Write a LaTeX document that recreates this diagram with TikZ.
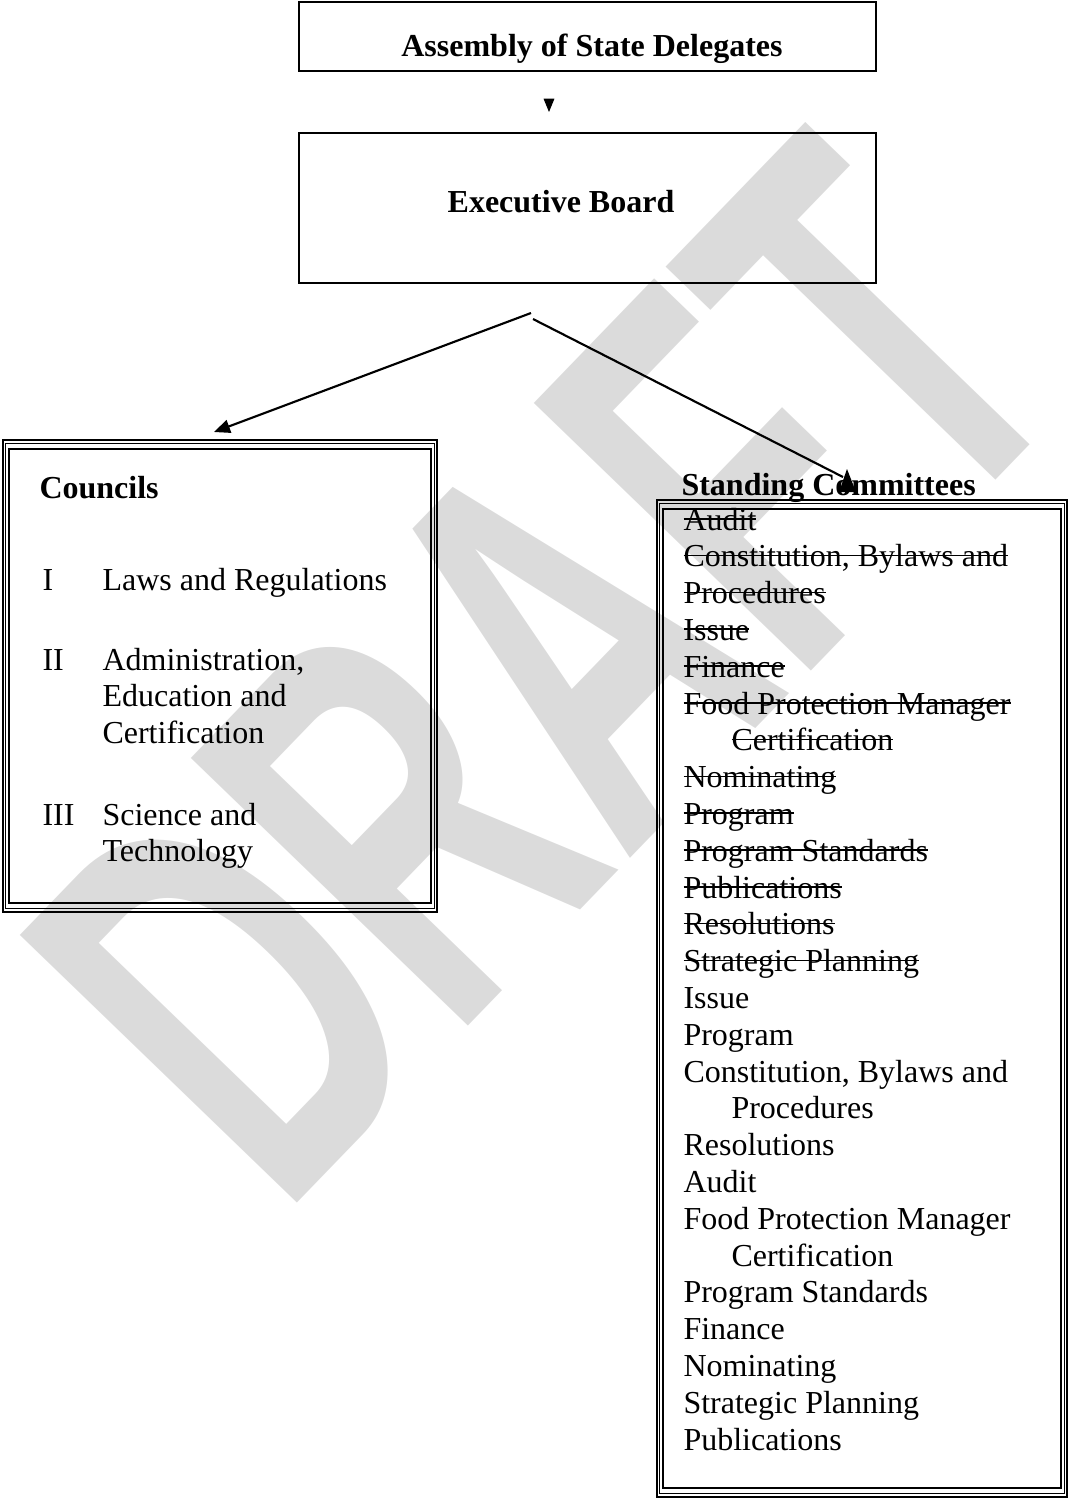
\documentclass[tikz,border=0pt]{standalone}
\usepackage{fontspec}
\setmainfont{Liberation Serif}
\newfontfamily\wmfont{Liberation Sans}
\usepackage{graphicx}
\usetikzlibrary{arrows.meta}
\tikzset{
    box/.style={
        draw,
        line width=1pt,
        inner sep=0pt
    },
    outerframe/.style={
        draw,
        line width=0.8pt,
        inner sep=0pt
    },
    heading/.style={
        anchor=base west,
        inner sep=0pt,
        font=\bfseries\fontsize{12}{13.8}\selectfont
    },
    entry/.style={
        anchor=base west,
        inner sep=0pt,
        align=left,
        font=\fontsize{12}{13.8}\selectfont
    },
    conn/.style={
        line width=0.8pt,
        -{Triangle[length=6pt,width=5pt]}
    },
    watermark/.style={
        anchor=base west,
        inner sep=0pt,
        rotate=46,
        text=black!14,
        font=\wmfont\bfseries\fontsize{210}{210}\selectfont
    }
}
\newcommand{\struck}[1]{\setbox0\hbox{#1}\rlap{\rule[3.9pt]{\wd0}{0.6pt}}\box0}
\newcommand{\tripleframe}[1] {
    \draw[line width=0.4pt] ([shift={(3.5,5)}]#1.north west) rectangle ([shift={(-3.5,-5)}]#1.south east);
    \draw[line width=0.6pt] ([shift={(7,10)}]#1.north west) rectangle ([shift={(-7,-10)}]#1.south east);
}

\begin{document}
\begin{tikzpicture}[x={(0.375pt,0)}, y={(0,-0.375pt)}]
    \useasboundingbox (0,0) rectangle (1069,1502);
    % watermark
    \node[watermark] (draft) at (281,1220) {\scalebox{0.61}[1]{DRAFT}};

    % top of the chart
    \node[box, minimum width=216.4pt, minimum height=25.9pt] (assembly) at (587.5,36.5) {};
    \node[anchor=base, inner sep=0pt, font=\bfseries\fontsize{12}{13.8}\selectfont] (assemblytext) at (592,56) {Assembly of State Delegates};
    \node[box, minimum width=216.4pt, minimum height=56.25pt] (board) at (587.5,208) {};
    \node[anchor=base, inner sep=0pt, font=\bfseries\fontsize{12}{13.8}\selectfont] (boardtext) at (561,212) {Executive Board};

    \coordinate (downfrom) at (549,100);
    \coordinate (downtip) at (549,112);
    \draw[-{Triangle[length=5pt,width=4pt]}] (downfrom) -- (downtip);

    % councils (base of a block = its last line)
    \node[outerframe, minimum width=162.6pt, minimum height=177pt] (councils) at (220,676) {};
    \tripleframe{councils}
    \node[heading] (councilshead) at (39,498) {Councils};
    \node[entry] (numI) at (42,590) {I};
    \node[entry] (lawsreg) at (102,590) {Laws and Regulations};
    \node[entry] (numII) at (42,670) {II};
    \node[entry] (admin) at (102,743.6) {Administration,\\Education and\\Certification};
    \node[entry] (numIII) at (42,825) {III};
    \node[entry] (science) at (102,861.8) {Science and\\Technology};

    % standing committees
    \node[outerframe, minimum width=153.75pt, minimum height=373.9pt] (committees) at (862,998.5) {};
    \tripleframe{committees}
    \node[heading] (committeeshead) at (681,495) {Standing Committees};
    \node[entry] (committeelist) at (683,1450) {%
        \struck{Audit}\\
        \struck{Constitution, Bylaws and}\\
        \struck{Procedures}\\
        \struck{Issue}\\
        \struck{Finance}\\
        \struck{Food Protection Manager}\\
        \hspace*{18pt}\struck{Certification}\\
        \struck{Nominating}\\
        \struck{Program}\\
        \struck{Program Standards}\\
        \struck{Publications}\\
        \struck{Resolutions}\\
        \struck{Strategic Planning}\\
        Issue\\
        Program\\
        Constitution, Bylaws and\\
        \hspace*{18pt}Procedures\\
        Resolutions\\
        Audit\\
        Food Protection Manager\\
        \hspace*{18pt}Certification\\
        Program Standards\\
        Finance\\
        Nominating\\
        Strategic Planning\\
        Publications};

    % connectors
    \coordinate (splitleft) at (531,313);
    \coordinate (splitright) at (533,319);
    \coordinate (councilstip) at (214,432);
    \coordinate (committeestip) at (843,477);
    \draw[conn] (splitleft) -- (councilstip);
    \draw[line width=0.8pt] (splitright) -- (committeestip);
    \fill (847,469) -- (839,492) -- (856,492) -- cycle;
\end{tikzpicture}
\end{document}
